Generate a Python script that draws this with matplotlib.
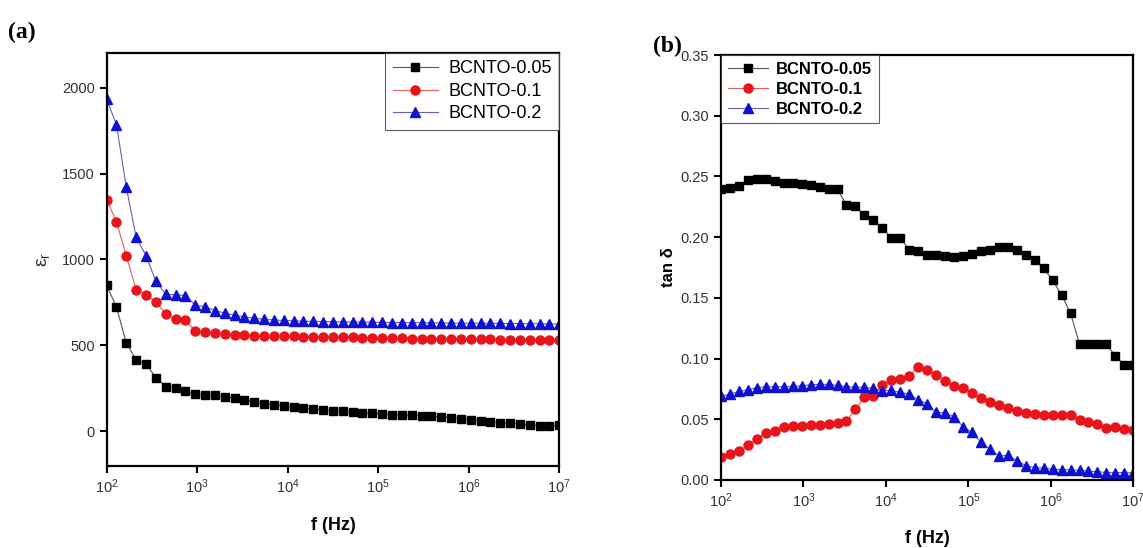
import matplotlib
matplotlib.use("Agg")
import matplotlib.pyplot as plt
from matplotlib.ticker import FixedLocator, NullLocator, LogFormatterSciNotation, FormatStrFormatter

plt.rcParams["font.family"] = ["Liberation Sans", "DejaVu Sans"]
plt.rcParams["mathtext.default"] = "regular"

# frequency sweep (Hz), 47 points from 100 Hz to 10 MHz
freq = [100, 128.4, 165.0, 211.9, 272.1, 349.5, 448.9, 576.6, 740.6, 951.2,
        1221.7, 1569.2, 2015.4, 2588.5, 3324.6, 4270.1, 5484.5, 7044.2, 9047.4,
        11620, 14925, 19170, 24620, 31623, 40616, 52167, 67002, 86056,
        110530, 141960, 182330, 234180, 300780, 386320, 496180, 637290, 818520,
        1051300, 1350300, 1734300, 2227500, 2861000, 3674600, 4719600, 6061800,
        7785600, 10000000]

labels = ["BCNTO-0.05", "BCNTO-0.1", "BCNTO-0.2"]

# (a) dielectric constant
eps_005 = [849, 723, 514, 414, 392, 313, 260, 254, 236, 215, 211, 209, 201, 193,
           181, 173, 160, 154, 148, 140, 134, 130, 124, 120, 116, 112, 108, 104,
           100, 97, 95, 93, 91, 87, 83, 79, 73, 67, 61, 55, 51, 47, 43, 37, 32,
           32, 35]
eps_01 = [1348, 1220, 1021, 824, 794, 755, 682, 652, 646, 585, 579, 571, 565,
          560, 558, 556, 555, 554, 553, 552, 551, 550, 549, 548, 547, 546, 545,
          544, 543, 542, 541, 540, 540, 539, 538, 537, 537, 536, 535, 535, 534,
          533, 533, 532, 532, 531, 530]
eps_02 = [1931, 1785, 1419, 1129, 1023, 873, 798, 794, 790, 733, 725, 703, 688,
          676, 666, 658, 652, 648, 645, 643, 641, 640, 639, 638, 637, 636, 635,
          635, 634, 633, 633, 632, 632, 631, 631, 630, 630, 629, 629, 628, 628,
          627, 627, 626, 626, 625, 624]

# (b) loss tangent
tan_005 = [0.2398, 0.2404, 0.2418, 0.2470, 0.2481, 0.2475, 0.2462, 0.2448,
           0.2445, 0.2437, 0.2429, 0.2412, 0.2393, 0.2393, 0.2264, 0.2253,
           0.2179, 0.2140, 0.2077, 0.1995, 0.1992, 0.1896, 0.1887, 0.1852,
           0.1852, 0.1843, 0.1835, 0.1846, 0.1860, 0.1885, 0.1898, 0.1918,
           0.1915, 0.1893, 0.1849, 0.1808, 0.1742, 0.1646, 0.1522, 0.1374,
           0.112, 0.112, 0.112, 0.112, 0.102, 0.095, 0.095]
tan_01 = [0.0193, 0.0215, 0.0240, 0.0285, 0.0340, 0.0390, 0.0406, 0.0439,
          0.0448, 0.0448, 0.0453, 0.0456, 0.0461, 0.0467, 0.0486, 0.0583,
          0.0682, 0.0690, 0.0780, 0.0820, 0.0829, 0.0860, 0.0931, 0.0906,
          0.0862, 0.0812, 0.0776, 0.0754, 0.0718, 0.0677, 0.0646, 0.0619,
          0.0597, 0.0572, 0.0555, 0.0547, 0.0539, 0.0533, 0.0533, 0.0539,
          0.0492, 0.0475, 0.0459, 0.0431, 0.0434, 0.0420, 0.0414]
tan_02 = [0.0690, 0.0707, 0.0729, 0.0743, 0.0760, 0.0768, 0.0768, 0.0768,
          0.0771, 0.0773, 0.0785, 0.0787, 0.0787, 0.0779, 0.0768, 0.0765,
          0.0765, 0.0754, 0.0735, 0.0738, 0.0721, 0.0707, 0.0660, 0.0627,
          0.0558, 0.0552, 0.0522, 0.0439, 0.0392, 0.0312, 0.0254, 0.0199,
          0.0202, 0.0160, 0.0119, 0.0102, 0.0097, 0.0088, 0.0086, 0.0083,
          0.0080, 0.0072, 0.0069, 0.0061, 0.0061, 0.0061, 0.0058]

colors = ["black", "#e8141c", "#1010d0"]
line_colors = ["#555555", "#e06060", "#6060c0"]
markers = ["s", "o", "^"]
msizes = [5.5, 6.5, 6.5]

fig = plt.figure(figsize=(11.43, 5.48), dpi=100)
ax_a = fig.add_axes([0.0933, 0.1502, 0.396, 0.7526])
ax_b = fig.add_axes([0.6308, 0.1241, 0.3607, 0.7755])


def style_axis(ax, xlabelpad):
    ax.set_xscale("log")
    ax.set_xlim(1e2, 1e7)
    ax.xaxis.set_major_locator(FixedLocator([1e2, 1e3, 1e4, 1e5, 1e6, 1e7]))
    ax.xaxis.set_major_formatter(LogFormatterSciNotation())
    ax.xaxis.set_minor_locator(NullLocator())
    for s in ax.spines.values():
        s.set_linewidth(1.6)
    ax.tick_params(direction="out", length=5, width=1.5, labelsize=10.5,
                   top=False, right=False, colors="black", labelcolor="#333333")
    ax.set_xlabel("f (Hz)", fontsize=13, fontweight="bold", labelpad=xlabelpad)


for ys, c, lc, m, ms, lab in zip([eps_005, eps_01, eps_02], colors, line_colors, markers, msizes, labels):
    ax_a.plot(freq, ys, color=lc, lw=0.8, marker=m, ms=ms, mfc=c, mec=c, label=lab)
style_axis(ax_a, 15)
ax_a.set_ylim(-200, 2200)
ax_a.set_yticks([0, 500, 1000, 1500, 2000])
ax_a.set_ylabel("ε$_r$", fontsize=14, labelpad=7, color="#333333")
leg_a = ax_a.legend(loc="upper right", fontsize=13, frameon=True, fancybox=False,
                    borderaxespad=0, handlelength=2.5, labelspacing=0.3,
                    borderpad=0.4, handletextpad=0.6, edgecolor="#333333")
leg_a.get_frame().set_linewidth(0.8)

for ys, c, lc, m, ms, lab in zip([tan_005, tan_01, tan_02], colors, line_colors, markers, msizes, labels):
    ax_b.plot(freq, ys, color=lc, lw=0.8, marker=m, ms=ms, mfc=c, mec=c, label=lab)
style_axis(ax_b, 14)
ax_b.set_ylim(0, 0.35)
ax_b.set_yticks([0.0, 0.05, 0.10, 0.15, 0.20, 0.25, 0.30, 0.35])
ax_b.yaxis.set_major_formatter(FormatStrFormatter("%.2f"))
ax_b.set_ylabel("tan δ", fontsize=12, fontweight="bold", labelpad=3)
leg_b = ax_b.legend(loc="upper left", frameon=True, fancybox=False,
                    borderaxespad=0, handlelength=2.4, labelspacing=0.3,
                    borderpad=0.4, handletextpad=0.5, edgecolor="#333333",
                    prop={"size": 12, "weight": "bold"})
leg_b.get_frame().set_linewidth(0.8)

fig.text(0.007, 0.93, "(a)", fontsize=17, fontweight="bold", family="Liberation Serif")
fig.text(0.571, 0.905, "(b)", fontsize=17, fontweight="bold", family="Liberation Serif")

fig.savefig("out.png", dpi=100)
